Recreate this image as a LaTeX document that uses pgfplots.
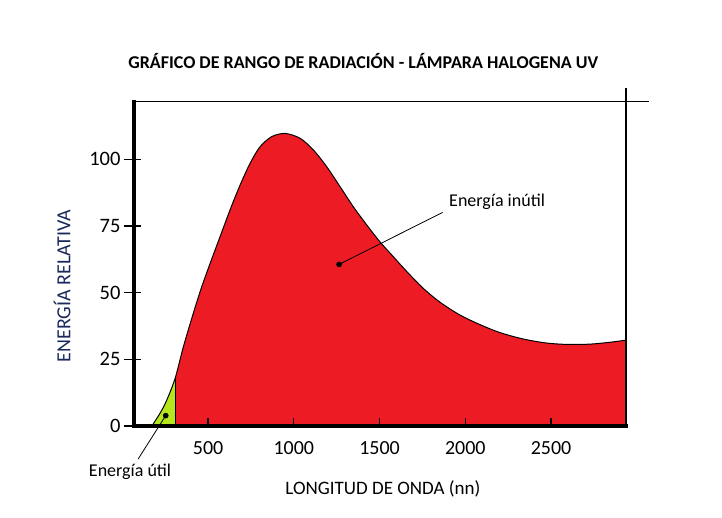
\documentclass[border=0pt]{standalone}
\usepackage{pgfplots}
\pgfplotsset{compat=1.18}
\usepackage{fontspec}
\setmainfont{Carlito}
\definecolor{pred}{HTML}{ED1C24}
\definecolor{plime}{HTML}{B5E61D}
\definecolor{navy}{RGB}{25,40,90}
\begin{document}
\begin{tikzpicture}
\begin{axis}[
  scale only axis, width=492pt, height=324.3pt,
  xmin=68, xmax=2937, ymin=0, ymax=121.6,
  axis x line=bottom, axis y line=left,
  axis line style={line width=4pt, -, line cap=rect},
  axis on top,
  clip=false,
  xtick={500,1000,1500,2000,2500},
  minor xtick={500,1000,1500,2000,2500},
  major x tick style={draw=none},
  ytick={0,25,50,75,100},
  tick align=inside,
  major tick length=17pt, minor tick length=8pt,
  ytick style={xshift=-10pt, line width=1.2pt, black},
  minor x tick style={line width=1.2pt, black},
  /pgf/number format/assume math mode=true,
  /pgf/number format/1000 sep={},
  xticklabel style={font=\fontsize{20}{24}\selectfont, yshift=-12pt},
  yticklabel style={font=\fontsize{20.5}{24}\selectfont, xshift=-10pt},
  title={GRÁFICO DE RANGO DE RADIACIÓN - LÁMPARA HALOGENA UV},
  title style={font=\bfseries\fontsize{18}{22}\selectfont, at={(axis description cs:0.466,1.108)}, anchor=center},
  xlabel={LONGITUD DE ONDA (nn)},
  xlabel style={font=\fontsize{19}{22}\selectfont, at={(axis description cs:0.506,-0.194)}, anchor=center},
  ylabel={ENERGÍA RELATIVA},
  ylabel style={font=\fontsize{20}{24}\selectfont, color=navy, at={(axis description cs:-0.146,0.432)}, anchor=center},
]
% useful (green) part
\addplot[draw=none, fill=plime, smooth] coordinates {(172,0)(220,4.8)(259,9.7)(308,17.9)} \closedcycle;
% useless (red) part
\addplot[draw=none, fill=pred, smooth] coordinates {(308,17.9)(356,29.7)(414,42.3)(463,52.2)(512,61)(570,71)(628,81)(687,90.4)(745,98.5)(803,104.7)(871,108.5)(949,109.7)(1036,107.9)(1114,103.5)(1192,97.2)(1270,89.7)(1347,82.2)(1425,75.4)(1503,69)(1580,63.5)(1659,57.9)(1755,51.6)(1853,46.4)(1969,41.6)(2086,38.0)(2203,35.0)(2339,32.6)(2475,31.1)(2592,30.6)(2727,30.7)(2844,31.4)(2937,32.2)} \closedcycle;
% outline
\addplot[black, line width=1pt, smooth] coordinates {(172,0)(220,4.8)(259,9.7)(308,17.9)(356,29.7)(414,42.3)(463,52.2)(512,61)(570,71)(628,81)(687,90.4)(745,98.5)(803,104.7)(871,108.5)(949,109.7)(1036,107.9)(1114,103.5)(1192,97.2)(1270,89.7)(1347,82.2)(1425,75.4)(1503,69)(1580,63.5)(1659,57.9)(1755,51.6)(1853,46.4)(1969,41.6)(2086,38.0)(2203,35.0)(2339,32.6)(2475,31.1)(2592,30.6)(2727,30.7)(2844,31.4)(2937,32.2)};
\addplot[black, line width=0.8pt] coordinates {(308,0)(308,17.9)};
% annotations
\addplot[black, line width=0.8pt] coordinates {(253,3.9)(92,-12.4)};
\addplot[black, line width=0.8pt] coordinates {(1264,60.6)(1868,80.1)};
\addplot[only marks, mark=*, mark size=2.6pt, black] coordinates {(253,3.9)(1264,60.6)};
\node[font=\fontsize{18}{21}\selectfont] at (axis cs:45,-17.2) {Energía útil};
\node[font=\fontsize{18}{21}\selectfont, anchor=west, inner sep=0pt] at (axis cs:1905,84.1) {Energía inútil};
% frame lines top / right
\draw[line width=1.4pt] (rel axis cs:0,1) -- ([xshift=23pt]rel axis cs:1,1);
\draw[line width=1.4pt] ([yshift=14pt]rel axis cs:1,1) -- (rel axis cs:1,0);
% page size
\path (rel axis cs:0,0) ++(-134pt,-91pt) rectangle ++(722pt,517pt);
\end{axis}
\end{tikzpicture}
\end{document}
